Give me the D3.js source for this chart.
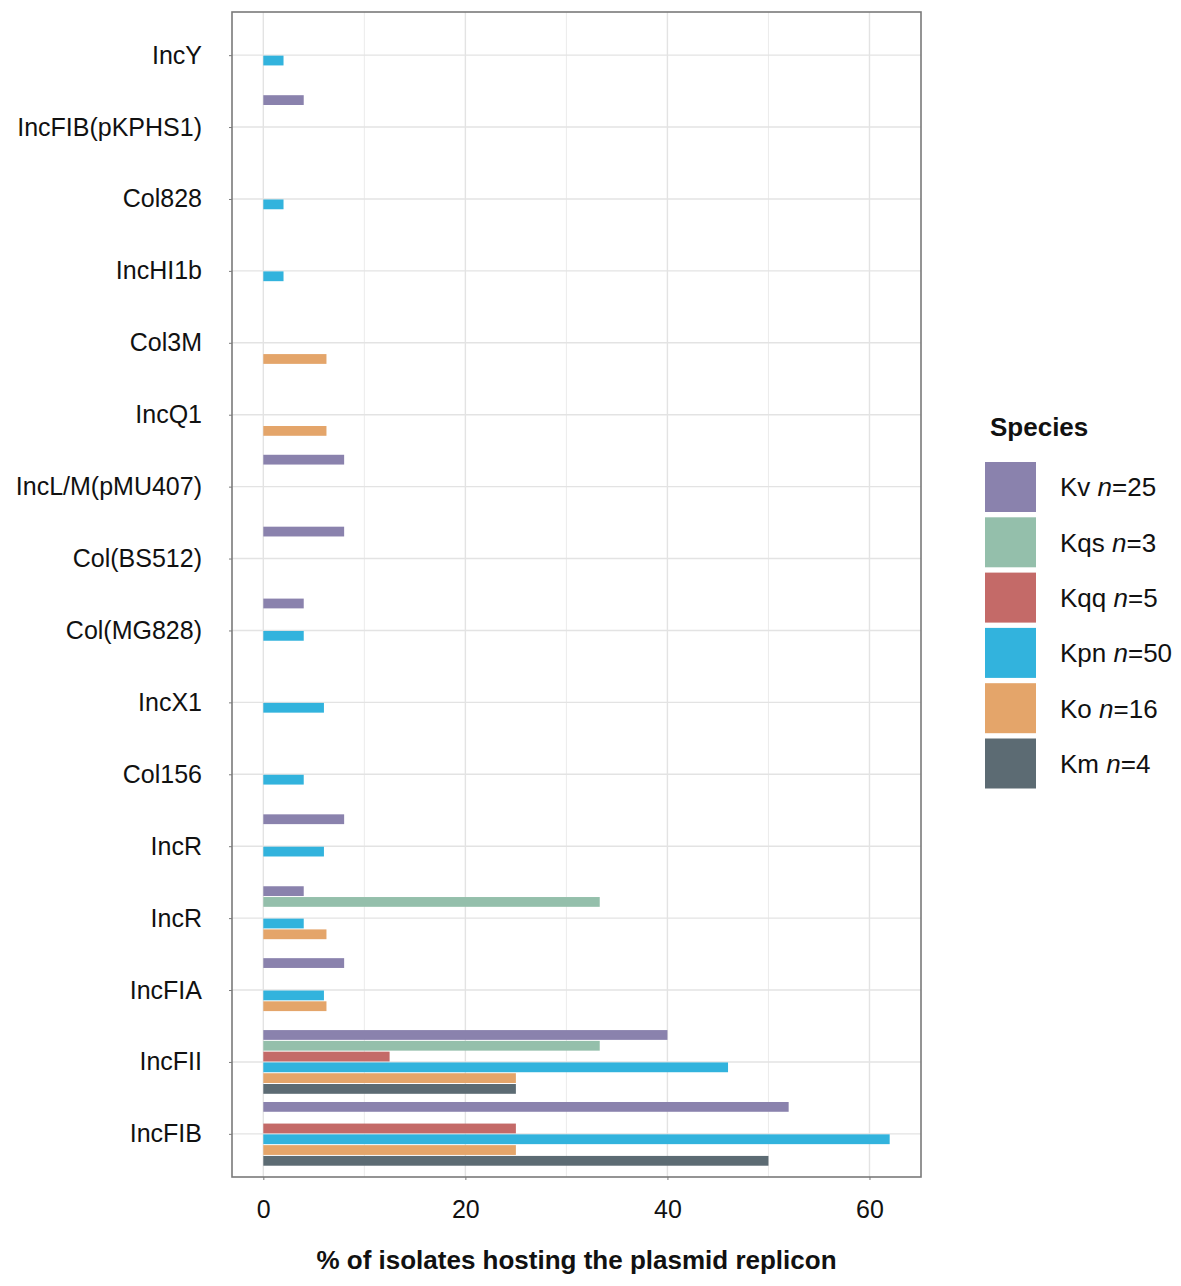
<!DOCTYPE html>
<html>
<head>
<meta charset="utf-8">
<script src="https://cdn.jsdelivr.net/npm/d3@7"></script>
<style>
  body { margin: 0; background: #fff; }
  text { font-family: "Liberation Sans", Arial, sans-serif; }
</style>
</head>
<body>
<div id="chart"></div>
<script>
// replicons, top to bottom
const replicons = ['IncY', 'IncFIB(pKPHS1)', 'Col828', 'IncHI1b', 'Col3M', 'IncQ1',
    'IncL/M(pMU407)', 'Col(BS512)', 'Col(MG828)', 'IncX1', 'Col156', 'IncR', 'IncR',
    'IncFIA', 'IncFII', 'IncFIB'];

const species = ['Kv', 'Kqs', 'Kqq', 'Kpn', 'Ko', 'Km'];
const speciesN = [25, 3, 5, 50, 16, 4];
const speciesColors = ['#8a82ad', '#94bfab', '#c46a68', '#32b3dd', '#e4a56a', '#5c6b73'];

// % of isolates per species, same order as replicons (0 = absent)
const kv  = [0, 4, 0, 0, 0, 0, 8, 8, 4, 0, 0, 8, 4, 8, 40, 52];
const kqs = [0, 0, 0, 0, 0, 0, 0, 0, 0, 0, 0, 0, 33.3, 0, 33.3, 0];
const kqq = [0, 0, 0, 0, 0, 0, 0, 0, 0, 0, 0, 0, 0, 0, 12.5, 25];
const kpn = [2, 0, 2, 2, 0, 0, 0, 0, 4, 6, 4, 6, 4, 6, 46, 62];
const ko  = [0, 0, 0, 0, 6.25, 6.25, 0, 0, 0, 0, 0, 0, 6.25, 6.25, 25, 25];
const km  = [0, 0, 0, 0, 0, 0, 0, 0, 0, 0, 0, 0, 0, 0, 25, 50];

const xTicks = [0, 20, 40, 60];
const xMinor = [10, 30, 50];

const seriesValues = [kv, kqs, kqq, kpn, ko, km];

const width = 1181, height = 1286;
const margin = { top: 12, right: 260, bottom: 109, left: 232 };
const plotW = width - margin.left - margin.right;
const plotH = height - margin.top - margin.bottom;

const svg = d3.select('#chart').append('svg')
    .attr('width', width)
    .attr('height', height);

const g = svg.append('g')
    .attr('transform', `translate(${margin.left},${margin.top})`);

// Scales (ggplot-like expansion)
const xScale = d3.scaleLinear()
    .domain([-3.1, 65.1])
    .range([0, plotW]);

const idx = replicons.map((d, i) => i);
const yScale = d3.scalePoint()
    .domain(idx)
    .range([0, plotH])
    .padding(0.6);
const step = yScale.step();

const slot = d3.scaleBand()
    .domain(species)
    .range([-step * 0.45, step * 0.45]);

// grid
g.selectAll('.vminor').data(xMinor).enter().append('line')
    .attr('x1', d => xScale(d)).attr('x2', d => xScale(d))
    .attr('y1', 0).attr('y2', plotH)
    .attr('stroke', '#ebebeb').attr('stroke-width', 1);
g.selectAll('.vmajor').data(xTicks).enter().append('line')
    .attr('x1', d => xScale(d)).attr('x2', d => xScale(d))
    .attr('y1', 0).attr('y2', plotH)
    .attr('stroke', '#e3e3e3').attr('stroke-width', 1.4);
g.selectAll('.hgrid').data(idx).enter().append('line')
    .attr('x1', 0).attr('x2', plotW)
    .attr('y1', d => yScale(d)).attr('y2', d => yScale(d))
    .attr('stroke', '#e3e3e3').attr('stroke-width', 1.4);

// bars
const barData = [];
seriesValues.forEach((vals, s) => {
    vals.forEach((v, i) => {
        if (v > 0) barData.push({ sp: species[s], color: speciesColors[s], i: i, v: v });
    });
});

g.selectAll('.bar')
    .data(barData)
    .enter()
    .append('rect')
    .attr('class', 'bar')
    .attr('x', xScale(0))
    .attr('y', d => yScale(d.i) + slot(d.sp) + 0.5)
    .attr('width', d => xScale(d.v) - xScale(0))
    .attr('height', slot.bandwidth() - 1)
    .attr('fill', d => d.color);

// panel border
g.append('rect')
    .attr('width', plotW).attr('height', plotH)
    .attr('fill', 'none').attr('stroke', '#7a7a7a').attr('stroke-width', 1.6);

// axes
const xAxis = d3.axisBottom(xScale).tickValues(xTicks).tickSize(3).tickPadding(20);
g.append('g')
    .attr('transform', `translate(0,${plotH})`)
    .call(xAxis)
    .call(a => a.select('.domain').remove())
    .call(a => a.selectAll('line').attr('stroke', '#7a7a7a'))
    .call(a => a.selectAll('text').attr('font-size', 25).attr('fill', '#111'));

const yAxis = d3.axisLeft(yScale).tickFormat(i => replicons[i]).tickSize(3).tickPadding(27);
g.append('g')
    .call(yAxis)
    .call(a => a.select('.domain').remove())
    .call(a => a.selectAll('line').attr('stroke', '#7a7a7a'))
    .call(a => a.selectAll('text').attr('font-size', 25).attr('fill', '#111'));

// axis title
svg.append('text')
    .attr('x', margin.left + plotW / 2)
    .attr('y', 1269)
    .attr('text-anchor', 'middle')
    .attr('font-size', 26)
    .attr('font-weight', 'bold')
    .attr('fill', '#111')
    .text('% of isolates hosting the plasmid replicon');

// legend
const legend = svg.append('g').attr('transform', 'translate(985,0)');
legend.append('text')
    .attr('x', 5).attr('y', 436)
    .attr('font-size', 26).attr('font-weight', 'bold').attr('fill', '#111')
    .text('Species');

const item = legend.selectAll('.item')
    .data(species)
    .enter()
    .append('g')
    .attr('transform', (d, i) => `translate(0,${462 + i * 55.3})`);

item.append('rect')
    .attr('width', 51).attr('height', 50)
    .attr('fill', (d, i) => speciesColors[i]);

const lbl = item.append('text')
    .attr('x', 75).attr('y', 25).attr('dy', '0.36em')
    .attr('font-size', 26).attr('fill', '#111');
lbl.append('tspan').text(d => d + ' ');
lbl.append('tspan').attr('font-style', 'italic').text('n');
lbl.append('tspan').text((d, i) => '=' + speciesN[i]);
</script>
</body>
</html>
